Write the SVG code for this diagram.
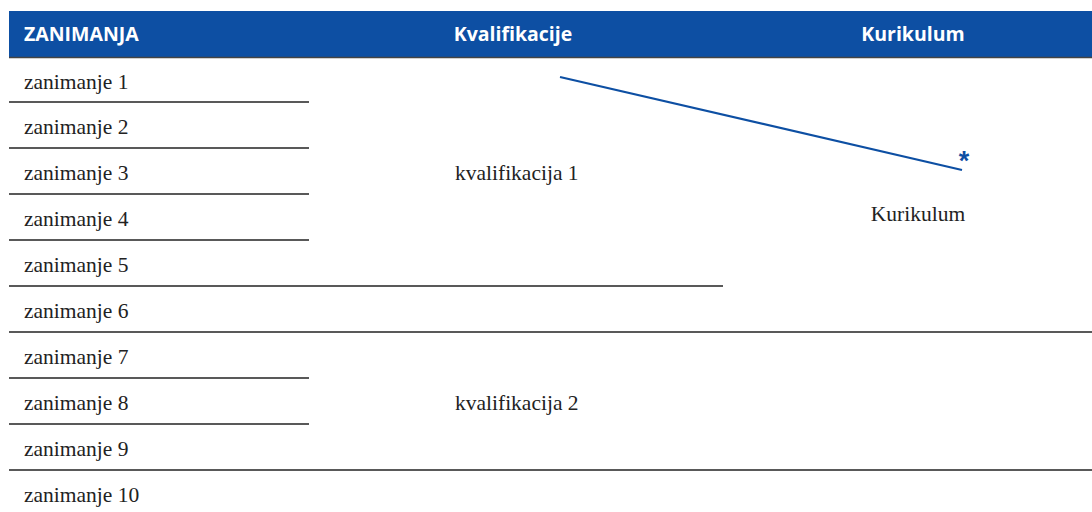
<svg xmlns="http://www.w3.org/2000/svg" width="1092" height="512" viewBox="0 0 1092 512">
<style>
.hd{font-family:"Open Sans","Liberation Sans",sans-serif;font-weight:bold;font-size:19.5px;fill:#fff}
.t{font-family:"Liberation Serif","DejaVu Serif",serif;font-size:21.5px;fill:#222}
.ln{stroke:#222;stroke-width:1.3}
</style>
<rect x="9" y="11" width="1083" height="46" fill="#0d4fa3"/>
<line x1="9" y1="57.5" x2="1092" y2="57.5" stroke="#444" stroke-width="1.5"/>
<g id="headers">
<text class="hd" x="24" y="41">ZANIMANJA</text>
<text class="hd" x="513" y="41" text-anchor="middle">Kvalifikacije</text>
<text class="hd" x="913" y="41" text-anchor="middle">Kurikulum</text>
</g>
<g id="rows">
<g id="z1"><text class="t" x="24" y="89">zanimanje 1</text></g>
<g id="z2"><text class="t" x="24" y="134">zanimanje 2</text></g>
<g id="z3"><text class="t" x="24" y="180">zanimanje 3</text></g>
<g id="z4"><text class="t" x="24" y="226">zanimanje 4</text></g>
<g id="z5"><text class="t" x="24" y="272">zanimanje 5</text></g>
<g id="z6"><text class="t" x="24" y="318">zanimanje 6</text></g>
<g id="z7"><text class="t" x="24" y="364">zanimanje 7</text></g>
<g id="z8"><text class="t" x="24" y="410">zanimanje 8</text></g>
<g id="z9"><text class="t" x="24" y="456">zanimanje 9</text></g>
<g id="z10"><text class="t" x="24" y="502">zanimanje 10</text></g>
</g>
<g id="k1"><text class="t" x="455" y="180">kvalifikacija 1</text></g>
<g id="k2"><text class="t" x="455" y="410">kvalifikacija 2</text></g>
<g id="kur"><text class="t" x="918" y="221" text-anchor="middle">Kurikulum</text></g>
<g id="lines">
<line class="ln" x1="9" y1="102" x2="309" y2="102"/>
<line class="ln" x1="9" y1="148" x2="309" y2="148"/>
<line class="ln" x1="9" y1="194" x2="309" y2="194"/>
<line class="ln" x1="9" y1="240" x2="309" y2="240"/>
<line class="ln" x1="9" y1="286" x2="723" y2="286"/>
<line class="ln" x1="9" y1="332" x2="1092" y2="332"/>
<line class="ln" x1="9" y1="378" x2="309" y2="378"/>
<line class="ln" x1="9" y1="424" x2="309" y2="424"/>
<line class="ln" x1="9" y1="470" x2="1092" y2="470"/>
</g>
<g id="connectors">
<line x1="560" y1="77" x2="962" y2="170" stroke="#0d4fa3" stroke-width="2.2"/>
<text x="964" y="170" text-anchor="middle" font-family="Liberation Sans,sans-serif" font-weight="bold" font-size="27" fill="#0d4fa3">*</text>
</g>
</svg>
